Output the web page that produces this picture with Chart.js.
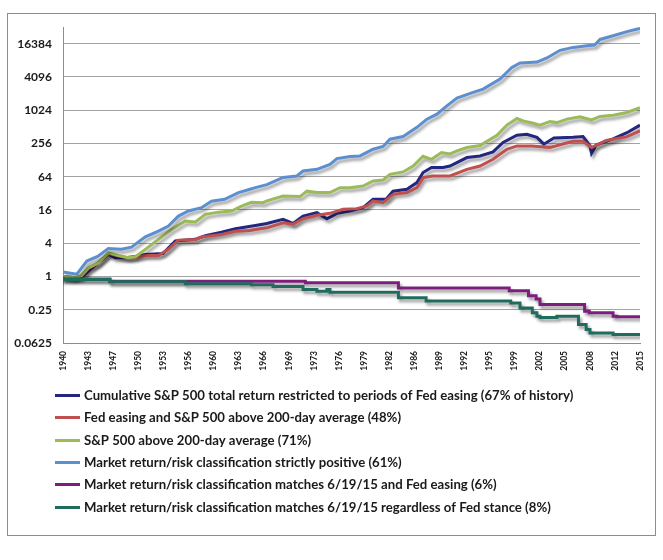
<!DOCTYPE html>
<html>
<head>
<meta charset="utf-8">
<script src="https://cdn.jsdelivr.net/npm/chart.js@4.4.1/dist/chart.umd.min.js"></script>
<style>
  html,body{ margin:0; padding:0; background:#fff; }
  #wrap{ width:663px; height:560px; position:relative; }
</style>
</head>
<body>
<div id="wrap"><canvas id="c" width="663" height="560"></canvas></div>
<script>
// x axis labels (evenly spaced across 1940..2015) and y axis ticks (powers of 4)
const xTickLabels = ["1940","1943","1947","1950","1953","1956","1960","1963","1966","1969","1973","1976",
  "1979","1982","1986","1989","1992","1995","1999","2002","2005","2008","2012","2015"];
const yTickValues = [0.0625, 0.25, 1, 4, 16, 64, 256, 1024, 4096, 16384];

const seriesNames = [
  "Cumulative S&P 500 total return restricted to periods of Fed easing (67% of history)",
  "Fed easing and S&P 500 above 200-day average (48%)",
  "S&P 500 above 200-day average (71%)",
  "Market return/risk classification strictly positive (61%)",
  "Market return/risk classification matches 6/19/15 and Fed easing (6%)",
  "Market return/risk classification matches 6/19/15 regardless of Fed stance (8%)"
];

// Fed easing
const easeYears = [1940,1941.1,1942.4,1943.3,1944.6,1945.9,1946.8,1948.1,1949.4,1950.7,1953,1954.6,1957.2,1958.5,1960.6,1962.4,1965,1966.5,1968.6,1969.9,1971.2,1973,1974.3,1975.6,1977.3,1979,1980.3,1982,1982.9,1984.7,1986,1986.8,1987.9,1989.4,1990.3,1992.5,1994.2,1995.9,1997.2,1999,2000.3,2001.6,2002.5,2003.8,2006.3,2007.6,2008.5,2008.7,2009.3,2011.5,2013.3,2015];
const easeVals  = [1,0.93,0.97,1.25,1.77,2.5,2.18,2.18,2.3,2.5,2.6,4.4,4.7,5.5,6.35,7.3,8.4,9.1,10.8,9.1,12.4,14.3,11.1,13.9,15.3,17.6,25,25,35,38,50,76,94,94,100,142,152,180,266,360,375,330,248,320,330,340,230,170,240,310,400,548];

// Fed easing and above 200-day
const easeAvgYears = [1940,1941.6,1942.4,1943.3,1944.6,1945.9,1947.2,1948.5,1949.4,1950.7,1952.4,1953.7,1955,1957.2,1958,1960.6,1962.4,1964.3,1965,1966.5,1968.6,1969.9,1971.2,1973,1974.7,1976.4,1978.2,1979.5,1980.3,1981.6,1982.9,1984.7,1986,1986.8,1988.1,1990.3,1992.5,1994.2,1995.9,1997.7,1999,2001,2003.3,2006.3,2007.6,2008.7,2010.6,2013.3,2015];
const easeAvgVals  = [1,0.95,1.02,1.4,1.75,2.6,2.35,2.15,2.2,2.4,2.4,3.1,4.55,4.68,5.2,5.77,6.6,6.8,7.1,7.6,9.4,8.8,11.1,12.8,13.9,16.4,16.9,18.9,23.2,21.7,30.7,33,40.5,61.6,66,66,87,100,132,201,231,231,216,280,280,216,290,340,431];

// above 200-day
const avgYears = [1940,1941.6,1942.4,1943.3,1944.6,1945.9,1947.2,1948.5,1949.4,1950.7,1952.4,1954.1,1955.9,1957.2,1958.5,1960.2,1961.9,1963.2,1964.5,1966,1966.5,1968.6,1970.8,1971.7,1973,1974.7,1976,1977.3,1979,1980.3,1981.6,1982.5,1984.2,1985.5,1986.8,1987.9,1989.2,1990.3,1991.2,1992.5,1994.2,1996.4,1997.7,1999,1999.8,2001,2002,2003.3,2004.2,2005.5,2007.2,2008.7,2009.8,2011.5,2013.3,2015];
const avgVals  = [1,0.95,1.04,1.44,1.77,2.7,2.4,2.18,2.27,3.1,4.7,7.1,10.1,9.7,13.3,14.6,15.3,18.8,22,21.7,23.3,28.6,27.9,35,33,33,40.5,40.5,43.4,53.5,55.7,70.7,78,100,150,132,175,165,187,216,235,360,550,724,656,600,548,640,610,704,780,680,787,830,930,1140];

// strictly positive
const posYears = [1940,1941.8,1943.1,1944.5,1945.9,1947.6,1948.9,1950.7,1952.4,1953.7,1955,1956.3,1958,1959.3,1961,1962.8,1964.3,1965,1966.5,1968.6,1970.4,1971.2,1973,1974.7,1975.6,1977.3,1978.6,1980.3,1981.6,1982.5,1984.2,1986,1987.3,1988.6,1989.9,1991.2,1993.3,1994.6,1996.8,1998.3,1999.4,2001.6,2002.9,2004.6,2006.3,2008.1,2009.1,2009.8,2011.5,2013.3,2015];
const posVals  = [1.2,1.1,1.9,2.3,3.2,3.1,3.4,5.2,6.6,8.2,12.4,15.3,17.6,23,25,33,38,40.6,46,62,66,81,87,107,136,148,152,201,225,305,342,500,704,867,1227,1700,2150,2460,3740,6000,7300,7600,9000,12400,14000,15000,15500,19500,22800,27000,31000];

// matches 6/19/15 and Fed easing (step series)
const matchEaseYears = [1940,1946.1,1971.5,1983.6,1998,2000.5,2001.5,2002,2007.8,2008.4,2011.5,2012,2015];
const matchEaseVals  = [1,0.9,0.82,0.77,0.62,0.55,0.45,0.39,0.31,0.235,0.22,0.19,0.186];

// matches 6/19/15 regardless (step series)
const matchYears = [1940,1946.1,1955.9,1964.5,1967.3,1971.2,1973,1974.3,1974.7,1983.6,1987.2,1998.2,1999.4,2001,2001.6,2002,2004.2,2007,2008,2008.5,2011.5,2012,2015];
const matchVals  = [1,0.88,0.8,0.74,0.71,0.66,0.58,0.54,0.58,0.52,0.41,0.36,0.33,0.27,0.22,0.19,0.18,0.19,0.135,0.11,0.095,0.089,0.089];

const colors = ["#23277f","#c0504d","#9bbb59","#5b8fd0","#7e1e7c","#1f6b5e"];

const pts = (xs, ys) => xs.map((x,i)=>({ x, y: ys[i] }));
const seriesData = [
  pts(easeYears, easeVals),
  pts(easeAvgYears, easeAvgVals),
  pts(avgYears, avgVals),
  pts(posYears, posVals),
  pts(matchEaseYears, matchEaseVals),
  pts(matchYears, matchVals)
];

const shadowPlugin = {
  id: "shadow",
  beforeDatasetDraw(chart){
    const ctx = chart.ctx;
    ctx.save();
    ctx.shadowColor = "rgba(0,0,0,0.38)";
    ctx.shadowBlur = 3;
    ctx.shadowOffsetX = 2;
    ctx.shadowOffsetY = 3;
  },
  afterDatasetDraw(chart){ chart.ctx.restore(); }
};

const frameLegendPlugin = {
  id: "frameLegend",
  beforeDraw(chart){
    const ctx = chart.ctx;
    ctx.save();
    ctx.strokeStyle = "#8c8c8c";
    ctx.lineWidth = 1;
    ctx.strokeRect(7.5, 13.5, 648, 522);
    ctx.restore();
  },
  afterDraw(chart){
    const ctx = chart.ctx;
    const top = chart.chartArea.bottom + 52;
    ctx.save();
    chart.data.datasets.forEach((ds, i) => {
      const y = Math.round(top + i * 22.3) + 0.5;
      ctx.strokeStyle = ds.borderColor;
      ctx.lineWidth = 3;
      ctx.beginPath(); ctx.moveTo(55, y); ctx.lineTo(80, y); ctx.stroke();
      ctx.fillStyle = "#1a1a1a";
      ctx.font = "bold 13.2px Lato";
      ctx.textBaseline = "middle";
      ctx.textAlign = "left";
      ctx.fillText(ds.label, 84, y);
    });
    ctx.restore();
  }
};

new Chart(document.getElementById("c"), {
  type: "line",
  data: {
    datasets: seriesNames.map((name, i) => ({
      label: name,
      data: seriesData[i],
      borderColor: colors[i],
      backgroundColor: colors[i],
      borderWidth: 3,
      pointRadius: 0,
      tension: 0,
      stepped: i >= 4 ? "after" : false,
      order: seriesNames.length - i
    }))
  },
  options: {
    responsive: false,
    animation: false,
    layout: { padding: { left: 8, right: 23, top: 27, bottom: 160 } },
    plugins: { legend: { display: false }, tooltip: { enabled: false } },
    scales: {
      x: {
        type: "linear",
        min: 1940, max: 2015,
        afterBuildTicks(scale){
          scale.ticks = xTickLabels.map((_, i) => ({ value: 1940 + i * 75 / (xTickLabels.length - 1) }));
        },
        afterFit(scale){ scale.height = 57; },
        grid: { display: false, drawTicks: false },
        border: { color: "#8c8c8c" },
        ticks: {
          autoSkip: false, minRotation: 90, maxRotation: 90, padding: 8,
          color: "#1a1a1a", font: { family: "Lato", weight: "bold", size: 8.5 },
          callback: (v, i) => xTickLabels[i]
        }
      },
      y: {
        type: "logarithmic",
        min: 0.0625, max: 32768,
        afterBuildTicks(scale){ scale.ticks = yTickValues.map(v => ({ value: v })); },
        afterFit(scale){ scale.width = 55; },
        grid: { color: "#a3a3a3", drawTicks: false },
        border: { color: "#8c8c8c" },
        ticks: {
          padding: 11, color: "#1a1a1a",
          font: { family: "Lato", weight: "bold", size: 12 },
          callback: v => String(v)
        }
      }
    }
  },
  plugins: [shadowPlugin, frameLegendPlugin]
});
</script>
</body>
</html>
